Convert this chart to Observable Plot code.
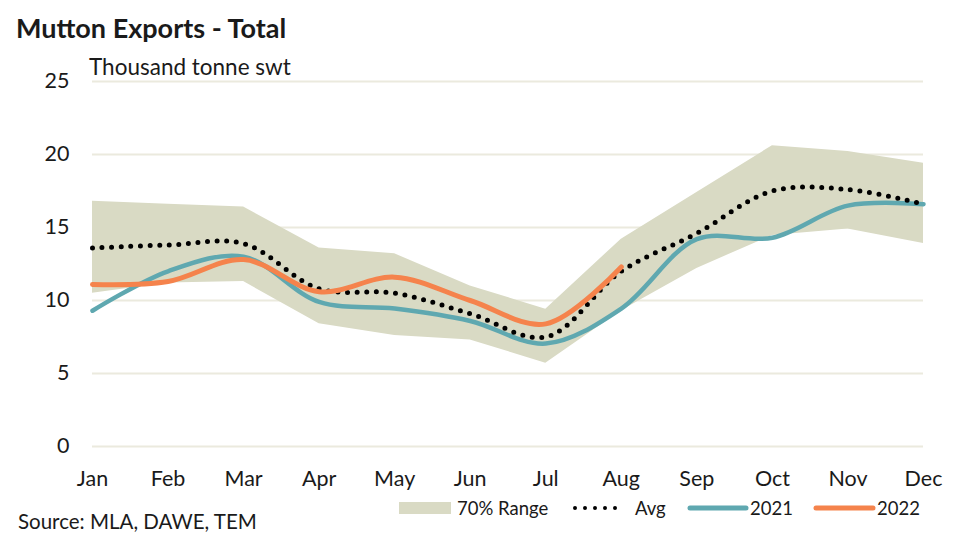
<!DOCTYPE html>
<html><head><meta charset="utf-8">
<script src="https://cdn.jsdelivr.net/npm/d3@7"></script>
<script src="https://cdn.jsdelivr.net/npm/@observablehq/plot@0.6"></script>
<style>
body{margin:0;background:#fff;font-family:Lato,"Open Sans",sans-serif;color:#1a1a1a;}
#wrap{position:relative;width:962px;height:541px;overflow:hidden;}
#title{position:absolute;left:16px;top:11px;font-size:27px;font-weight:bold;}
#sub{position:absolute;left:89px;top:53px;font-size:22.5px;}
#chart{position:absolute;left:0;top:48px;}
#legend{position:absolute;left:0;top:495px;width:962px;height:26px;}
#source{position:absolute;left:18px;top:509px;font-size:20.5px;}
</style></head>
<body><div id="wrap">
<div id="title">Mutton Exports - Total</div>
<div id="chart"></div>
<div id="sub">Thousand tonne swt</div>
<svg id="legend" width="962" height="26"></svg>
<div id="source">Source: MLA, DAWE, TEM</div>
</div>
<script>
const months = ["Jan","Feb","Mar","Apr","May","Jun","Jul","Aug","Sep","Oct","Nov","Dec"];
const rangeLow  = [10.5, 11.2, 11.3, 8.4, 7.6, 7.3, 5.7, 9.3, 12.2, 14.45, 14.9, 13.9];
const rangeHigh = [16.8, 16.6, 16.4, 13.6, 13.2, 11.0, 9.4, 14.2, 17.4, 20.6, 20.2, 19.4];
const avg       = [13.6, 13.8, 13.9, 10.8, 10.5, 9.1, 7.5, 12.0, 14.6, 17.5, 17.6, 16.6];
const y2021     = [9.3, 12.0, 13.0, 9.9, 9.45, 8.6, 7.05, 9.45, 14.2, 14.3, 16.5, 16.6];
const y2022     = [11.1, 11.3, 12.8, 10.6, 11.6, 10.0, 8.4, 12.3];
const yTicks = [0, 5, 10, 15, 20, 25];

const band = months.map((m, i) => ({i, lo: rangeLow[i], hi: rangeHigh[i]}));
const avgD = avg.map((v, i) => ({i, v}));
const d21 = y2021.map((v, i) => ({i, v}));
const d22 = y2022.map((v, i) => ({i, v}));

const C = {band: "#d9dac4", grid: "#ebeade", teal: "#5fa8b0", orange: "#f5834c"};
const FONT = "Lato, 'Open Sans', sans-serif";

const plot = Plot.plot({
  width: 962, height: 445,
  marginLeft: 92, marginRight: 39, marginTop: 33, marginBottom: 47,
  style: {fontFamily: FONT, fontSize: "21.5px", color: "#1a1a1a", background: "transparent"},
  x: {type: "linear", domain: [0, 11], label: null},
  y: {domain: [0, 25], label: null},
  marks: [
    Plot.ruleY(yTicks, {stroke: C.grid, strokeWidth: 2}),
    Plot.areaY(band, {x: "i", y1: "lo", y2: "hi", fill: C.band}),
    Plot.line(d21, {x: "i", y: "v", stroke: C.teal, strokeWidth: 4.5, curve: "catmull-rom"}),
    Plot.line(avgD, {x: "i", y: "v", stroke: "#000", strokeWidth: 5, strokeDasharray: "0 9.6", strokeLinecap: "round", curve: "catmull-rom"}),
    Plot.line(d22, {x: "i", y: "v", stroke: C.orange, strokeWidth: 5, curve: "catmull-rom"}),
    Plot.axisX({ticks: d3.range(12), tickFormat: i => months[i], tickSize: 0, tickPadding: 24}),
    Plot.axisY({ticks: yTicks, tickSize: 0, tickPadding: 23})
  ]
});
document.getElementById("chart").appendChild(plot);

const lg = d3.select("#legend");
const items = [
  {t: "70% Range", x1: 399, x2: 451, tx: 457, type: "rect"},
  {t: "Avg", x1: 575, x2: 625, tx: 635, type: "dot"},
  {t: "2021", x1: 690, x2: 746, tx: 750, type: "line", c: C.teal},
  {t: "2022", x1: 816, x2: 873, tx: 877, type: "line", c: C.orange}
];
items.forEach(it => {
  if (it.type === "rect") lg.append("rect").attr("x", it.x1).attr("y", 7).attr("width", it.x2 - it.x1).attr("height", 12).attr("fill", C.band);
  else if (it.type === "dot") lg.append("line").attr("x1", it.x1).attr("x2", it.x2).attr("y1", 13).attr("y2", 13)
      .attr("stroke", "#000").attr("stroke-width", 4).attr("stroke-dasharray", "0 10").attr("stroke-linecap", "round");
  else lg.append("line").attr("x1", it.x1).attr("x2", it.x2).attr("y1", 13).attr("y2", 13)
      .attr("stroke", it.c).attr("stroke-width", 5).attr("stroke-linecap", "round");
  lg.append("text").attr("x", it.tx).attr("y", 19.5).attr("font-size", 18.5).attr("fill", "#1a1a1a")
    .attr("font-family", FONT).text(it.t);
});
</script>
</body></html>
